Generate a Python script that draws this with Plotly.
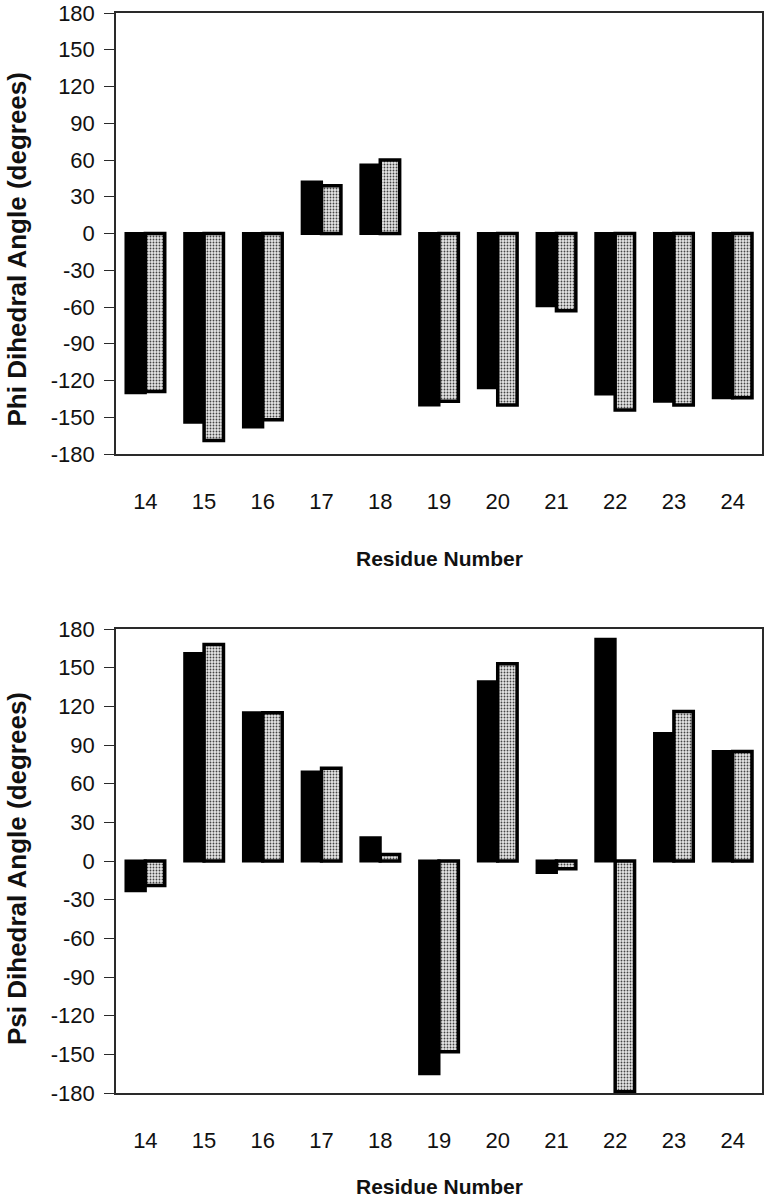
import plotly.graph_objects as go

residues = [14, 15, 16, 17, 18, 19, 20, 21, 22, 23, 24]
phi_black = [-130, -154, -158, 42, 56, -140, -126, -59, -131, -137, -134]
phi_gray = [-129, -169, -152, 39, 60, -137, -140, -63, -144, -140, -134]
psi_black = [-23, 161, 115, 69, 18, -165, 139, -9, 172, 99, 85]
psi_gray = [-19, 168, 115, 72, 5, -148, 153, -6, -179, 116, 85]
y_ticks = list(range(-180, 181, 30))
y_ticktext = [str(v) for v in y_ticks]
boundaries = [r + 0.5 for r in residues[:-1]]

FONT = "Liberation Sans, Arial, sans-serif"
W, H = 766, 1200
left, right = 116 / W, 762 / W
top_dom = [1 - 454 / H, 1 - 13 / H]
bot_dom = [1 - 1093 / H, 1 - 629 / H]

fig = go.Figure()

def add_pair(yb, yg, xa, ya):
    fig.add_trace(go.Bar(x=residues, y=yb, xaxis=xa, yaxis=ya,
                         marker=dict(color="black", line=dict(color="black", width=3)),
                         showlegend=False))
    fig.add_trace(go.Bar(x=residues, y=yg, xaxis=xa, yaxis=ya,
                         marker=dict(color="#d0d0d0",
                                     pattern=dict(shape=".", size=3, solidity=0.3,
                                                  fgcolor="#444444", bgcolor="#e6e6e6",
                                                  fillmode="replace"),
                                     line=dict(color="black", width=3.5)),
                         showlegend=False))

add_pair(phi_black, phi_gray, "x", "y")
add_pair(psi_black, psi_gray, "x2", "y2")

xr = [residues[0] - 0.5, residues[-1] + 0.5]
line_c = "#2a2a2a"

xcommon = dict(range=xr, tickvals=residues, ticktext=[str(r) for r in residues],
               showline=True, mirror=True, linecolor=line_c, linewidth=1.5,
               ticks="", showgrid=False, zeroline=False, ticklabelstandoff=27,
               automargin=False, ticklabeloverflow="allow",
               tickfont=dict(family=FONT, size=22, color="#111"), domain=[left, right])
ycommon = dict(range=[-180, 180], tickvals=y_ticks, ticktext=y_ticktext,
               showline=True, mirror=True, automargin=False, ticklabeloverflow="allow",
               linecolor=line_c, linewidth=1.5, ticks="outside", ticklen=10,
               tickcolor=line_c, tickwidth=1.2, showgrid=False, zeroline=False,
               ticklabelstandoff=5, tickfont=dict(family=FONT, size=22, color="#111"))
overlay = dict(range=xr, tickvals=boundaries, showticklabels=False, ticks="outside",
               ticklen=6, tickcolor=line_c, tickwidth=1.2, showline=True,
               linecolor=line_c, linewidth=1.5, showgrid=False, zeroline=False,
               automargin=False, anchor="free", domain=[left, right])

fig.update_layout(
    width=W, height=H, margin=dict(l=0, r=0, t=0, b=0, autoexpand=False),
    plot_bgcolor="white", paper_bgcolor="white",
    barmode="group", bargap=0.34, bargroupgap=0.0,
    xaxis=dict(anchor="y", **xcommon),
    yaxis=dict(anchor="x", domain=top_dom, **ycommon),
    xaxis2=dict(anchor="y2", **xcommon),
    yaxis2=dict(anchor="x2", domain=bot_dom, **ycommon),
    xaxis3=dict(overlaying="x", position=(top_dom[0] + top_dom[1]) / 2, **overlay),
    xaxis4=dict(overlaying="x2", position=(bot_dom[0] + bot_dom[1]) / 2, **overlay),
)

ann_font = dict(family=FONT, size=26, color="#111")
fig.add_annotation(text="<b>Phi Dihedral Angle (degrees)</b>", xref="paper", yref="paper",
                   x=17 / W, y=(top_dom[0] + top_dom[1]) / 2 - 16 / H, textangle=-90,
                   showarrow=False, font=ann_font, xanchor="center", yanchor="middle")
fig.add_annotation(text="<b>Psi Dihedral Angle (degrees)</b>", xref="paper", yref="paper",
                   x=17 / W, y=(bot_dom[0] + bot_dom[1]) / 2 - 8 / H, textangle=-90,
                   showarrow=False, font=ann_font, xanchor="center", yanchor="middle")
xt_font = dict(family=FONT, size=21, color="#111")
fig.add_annotation(text="<b>Residue Number</b>", xref="paper", yref="paper",
                   x=(left + right) / 2, y=1 - 558 / H, showarrow=False, font=xt_font,
                   xanchor="center", yanchor="middle")
fig.add_annotation(text="<b>Residue Number</b>", xref="paper", yref="paper",
                   x=(left + right) / 2, y=1 - 1186 / H, showarrow=False, font=xt_font,
                   xanchor="center", yanchor="middle")

fig.write_html("out.html", config={"displayModeBar": False},
               post_script="document.body.style.margin='0px';document.body.style.overflow='hidden';")
